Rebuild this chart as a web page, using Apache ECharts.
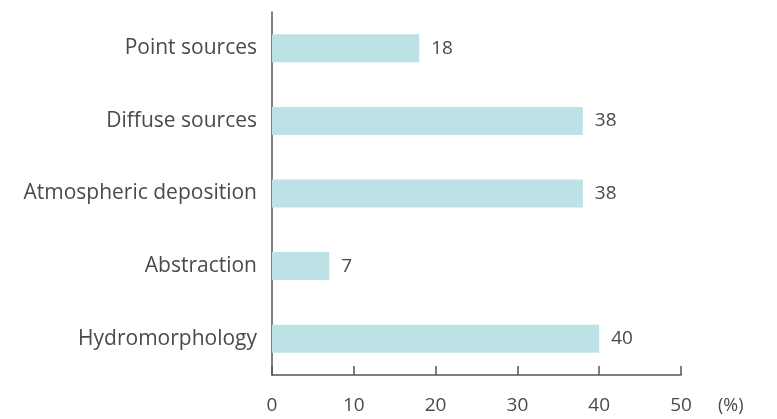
<!DOCTYPE html>
<html><head><meta charset="utf-8">
<script src="https://cdn.jsdelivr.net/npm/echarts@6/dist/echarts.min.js"></script>
<style>html,body{margin:0;padding:0;background:#fff}#c{width:777px;height:419px}</style>
</head><body><div id="c"></div>
<script>
const categories = ["Point sources","Diffuse sources","Atmospheric deposition","Abstraction","Hydromorphology"];
const values = [18, 38, 38, 7, 40];
const xTicks = [0, 10, 20, 30, 40, 50];

const chart = echarts.init(document.getElementById('c'));
chart.setOption({
  animation: false,
  grid: {left: 272, right: 96, top: 12, bottom: 44, containLabel: false},
  xAxis: {
    type: 'value', min: xTicks[0], max: xTicks[xTicks.length-1], interval: 10,
    name: '(%)', nameLocation: 'end', nameGap: 37,
    nameTextStyle: {color: '#4a4a4a', fontSize: 18, fontFamily: 'Open Sans', verticalAlign: 'top', padding: [22,0,0,0]},
    axisLine: {show: true, lineStyle: {color: '#555', width: 1.5}},
    axisTick: {show: true, inside: true, length: 9, lineStyle: {color: '#555', width: 1.5}},
    axisLabel: {color: '#4a4a4a', fontSize: 19, fontFamily: 'Open Sans', margin: 21},
    splitLine: {show: false}
  },
  yAxis: {
    type: 'category', data: categories, inverse: true,
    axisLine: {show: true, lineStyle: {color: '#555', width: 1.5}},
    axisTick: {show: false},
    axisLabel: {color: '#4a4a4a', fontSize: 21, fontFamily: 'Open Sans', margin: 15}
  },
  series: [{
    type: 'bar', data: values, barWidth: 28,
    itemStyle: {color: '#bde2e5'},
    label: {show: true, position: 'right', distance: 12, color: '#4a4a4a', fontSize: 19, fontFamily: 'Open Sans'}
  }]
});
</script></body></html>
